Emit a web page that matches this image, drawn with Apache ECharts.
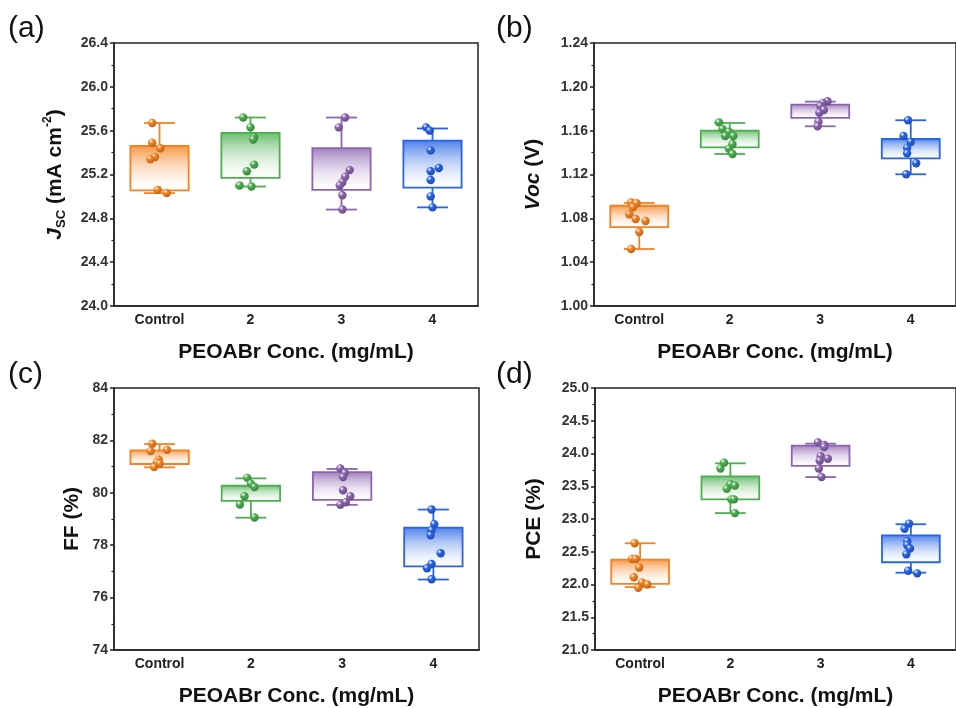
<!DOCTYPE html>
<html>
<head>
<meta charset="utf-8">
<script src="https://cdn.jsdelivr.net/npm/echarts@6/dist/echarts.min.js"></script>
<style>
  html, body { margin: 0; padding: 0; background: #fff; }
  #chart { width: 956px; height: 708px; }
</style>
</head>
<body>
<div id="chart"></div>
<script>
// categories / colours
var groups = ['Control', '2', '3', '4'];
var colors = [[245, 130, 32], [76, 175, 80], [140, 100, 175], [40, 100, 230]];

// box stats: [lower whisker, Q1, Q3, upper whisker]
var jscBox = [[25.03, 25.056, 25.46, 25.67], [25.09, 25.17, 25.58, 25.72], [24.88, 25.06, 25.44, 25.72], [24.90, 25.08, 25.51, 25.62]];
var vocBox = [[1.052, 1.072, 1.0915, 1.094], [1.1387, 1.1448, 1.160, 1.167], [1.164, 1.1716, 1.1837, 1.1865], [1.1202, 1.1348, 1.1524, 1.1695]];
var ffBox = [[80.97, 81.10, 81.62, 81.86], [79.05, 79.69, 80.27, 80.55], [79.54, 79.73, 80.79, 80.91], [76.69, 77.19, 78.67, 79.36]];
var pceBox = [[21.96, 22.01, 22.38, 22.63], [23.09, 23.30, 23.65, 23.85], [23.64, 23.81, 24.12, 24.15], [22.18, 22.34, 22.75, 22.92]];

// individual devices
var jscPts = [
  [25.67, 25.49, 25.44, 25.36, 25.34, 25.06, 25.03],
  [25.72, 25.63, 25.54, 25.52, 25.29, 25.23, 25.10, 25.09],
  [25.72, 25.63, 25.24, 25.18, 25.13, 25.10, 25.01, 24.88],
  [25.63, 25.60, 25.42, 25.23, 25.26, 25.15, 25.00, 24.90]
];
var vocPts = [
  [1.0946, 1.0937, 1.0901, 1.0837, 1.0794, 1.0776, 1.0675, 1.052],
  [1.1676, 1.1615, 1.159, 1.1551, 1.1551, 1.1476, 1.1435, 1.1387],
  [1.1868, 1.1853, 1.1825, 1.1789, 1.1764, 1.1682, 1.164],
  [1.1695, 1.1551, 1.1497, 1.1442, 1.1393, 1.1302, 1.1202]
];
var ffPts = [
  [81.87, 81.64, 81.59, 81.26, 81.16, 81.11, 80.98],
  [80.57, 80.35, 80.22, 79.87, 79.55, 79.06],
  [80.93, 80.76, 80.60, 80.10, 79.87, 79.64, 79.54],
  [79.36, 78.80, 78.57, 78.38, 77.69, 77.28, 77.12, 76.70]
];
var pcePts = [
  [22.63, 22.39, 22.39, 22.26, 22.11, 22.03, 22.00, 21.95],
  [23.86, 23.77, 23.53, 23.51, 23.46, 23.30, 23.30, 23.09],
  [24.17, 24.13, 24.10, 23.96, 23.92, 23.89, 23.77, 23.64],
  [22.93, 22.85, 22.66, 22.60, 22.55, 22.46, 22.21, 22.17]
];

// horizontal jitter of each point, as a fraction of the category width
var jscJit = [
  [-0.08, -0.08, 0.01, -0.05, -0.10, -0.02, 0.08],
  [-0.08, 0, 0.04, 0.03, 0.04, -0.04, -0.12, 0.01],
  [0.04, -0.03, 0.09, 0.04, 0.01, -0.02, 0.01, 0.01],
  [-0.07, -0.03, -0.02, -0.02, 0.07, -0.02, -0.02, 0]
];
var vocJit = [
  [-0.09, -0.03, -0.07, -0.11, -0.04, 0.07, 0, -0.09],
  [-0.12, -0.08, -0.01, -0.05, 0.04, 0.03, -0.01, 0.03],
  [0.08, 0.03, 0, 0.04, -0.01, -0.02, -0.03],
  [-0.03, -0.08, 0, -0.04, -0.04, 0.06, -0.05]
];
var ffJit = [
  [-0.08, 0.08, -0.10, -0.01, -0.03, 0, -0.06],
  [-0.04, 0, 0.04, -0.07, -0.12, 0.04],
  [-0.02, 0.03, 0.01, 0.01, 0.09, 0.04, -0.02],
  [-0.02, 0.01, -0.02, -0.03, 0.08, -0.02, -0.07, -0.02]
];
var pceJit = [
  [-0.06, -0.09, -0.05, -0.01, -0.07, 0.02, 0.08, -0.02],
  [-0.07, -0.11, 0, 0.05, -0.04, 0.01, 0.04, 0.05],
  [-0.03, 0.04, 0.04, 0, 0.08, -0.01, -0.02, 0.01],
  [-0.02, -0.07, -0.04, -0.04, -0.01, -0.05, -0.03, 0.07]
];

// y axis ranges: [min, max, interval]
var jscAxis = [24.0, 26.4, 0.4];
var vocAxis = [1.00, 1.24, 0.04];
var ffAxis = [74, 84, 2];
var pceAxis = [21.0, 25.0, 0.5];

var FONT = 'Liberation Sans, Arial, sans-serif';

function rgba(c, a) { return 'rgba(' + c[0] + ',' + c[1] + ',' + c[2] + ',' + a + ')'; }

function boxItem(params, api) {
  var i = api.value(0);
  var c = colors[i];
  var lo = api.coord([i, api.value(1)]);
  var q1 = api.coord([i, api.value(2)]);
  var q3 = api.coord([i, api.value(3)]);
  var hi = api.coord([i, api.value(4)]);
  var bw = api.size([1, 0])[0];
  var half = bw * 0.32, cap = bw * 0.17;
  var x = lo[0];
  var ls = { stroke: rgba(c, 1), lineWidth: 1.8 };
  return {
    type: 'group',
    children: [
      { type: 'line', shape: { x1: x, y1: hi[1], x2: x, y2: q3[1] }, style: ls },
      { type: 'line', shape: { x1: x, y1: q1[1], x2: x, y2: lo[1] }, style: ls },
      { type: 'line', shape: { x1: x - cap, y1: hi[1], x2: x + cap, y2: hi[1] }, style: ls },
      { type: 'line', shape: { x1: x - cap, y1: lo[1], x2: x + cap, y2: lo[1] }, style: ls },
      {
        type: 'rect',
        shape: { x: x - half, y: q3[1], width: half * 2, height: q1[1] - q3[1] },
        style: {
          fill: new echarts.graphic.LinearGradient(0, 0, 0, 1, [
            { offset: 0, color: rgba(c, 0.85) },
            { offset: 1, color: 'rgba(255,255,255,0.2)' }
          ]),
          stroke: rgba(c, 1),
          lineWidth: 1.8
        }
      }
    ]
  };
}

function dotItem(params, api) {
  var i = api.value(0);
  var c = colors[i];
  var p = api.coord([i, api.value(1)]);
  var bw = api.size([1, 0])[0];
  var r = 4.2;
  var dark = [Math.round(c[0] * 0.75), Math.round(c[1] * 0.75), Math.round(c[2] * 0.75)];
  return {
    type: 'circle',
    shape: { cx: p[0] + api.value(2) * bw, cy: p[1], r: r },
    style: {
      fill: new echarts.graphic.RadialGradient(0.35, 0.3, 0.75, [
        { offset: 0, color: 'rgba(255,255,255,0.95)' },
        { offset: 0.35, color: rgba(c, 1) },
        { offset: 1, color: rgba(dark, 1) }
      ])
    }
  };
}

var panels = [
  { box: jscBox, pts: jscPts, jit: jscJit, ax: jscAxis, dec: 1, grid: { left: 114, top: 43, width: 364, height: 263 },
    name: '{i|J}{sub|SC}{n| (mA cm}{sup|-2}{n|)}', gap: 46, label: '(a)', lx: 8, ly: 14 },
  { box: vocBox, pts: vocPts, jit: vocJit, ax: vocAxis, dec: 2, grid: { left: 594, top: 43, width: 371, height: 263 },
    name: '{i|Voc}{n| (V)}', gap: 48, label: '(b)', lx: 496, ly: 14 },
  { box: ffBox, pts: ffPts, jit: ffJit, ax: ffAxis, dec: 0, grid: { left: 114, top: 388, width: 365, height: 263 },
    name: '{n|FF (%)}', gap: 29, label: '(c)', lx: 8, ly: 360 },
  { box: pceBox, pts: pcePts, jit: pceJit, ax: pceAxis, dec: 1, grid: { left: 595, top: 388, width: 370, height: 263 },
    name: '{n|PCE (%)}', gap: 48, label: '(d)', lx: 496, ly: 360 }
];

var grids = [], xAxes = [], yAxes = [], series = [], graphics = [];
var nameRich = {
  n: { fontFamily: FONT, fontWeight: 'bold', fontSize: 21, color: '#111', lineHeight: 26 },
  i: { fontFamily: FONT, fontWeight: 'bold', fontStyle: 'italic', fontSize: 21, color: '#111', lineHeight: 26 },
  sub: { fontFamily: FONT, fontWeight: 'bold', fontSize: 13, color: '#111', verticalAlign: 'bottom', lineHeight: 14 },
  sup: { fontFamily: FONT, fontWeight: 'bold', fontSize: 12, color: '#111', verticalAlign: 'top', lineHeight: 13 }
};

panels.forEach(function (p, k) {
  grids.push(Object.assign({ show: true, borderColor: '#222', borderWidth: 1.5, backgroundColor: 'transparent' }, p.grid));
  xAxes.push({
    type: 'category', gridIndex: k, data: groups,
    axisLine: { lineStyle: { color: '#222', width: 1.5 } },
    axisTick: { alignWithLabel: true, length: 4, lineStyle: { color: '#222', width: 1.5 } },
    axisLabel: { fontFamily: FONT, fontWeight: 'bold', fontSize: 14, color: '#222', margin: 7 },
    splitLine: { show: false },
    name: 'PEOABr Conc. (mg/mL)', nameLocation: 'middle', nameGap: 36,
    nameTextStyle: { fontFamily: FONT, fontWeight: 'bold', fontSize: 21, color: '#111' }
  });
  yAxes.push({
    type: 'value', gridIndex: k, min: p.ax[0], max: p.ax[1], interval: p.ax[2],
    axisLine: { show: true, lineStyle: { color: '#222', width: 1.5 } },
    axisTick: { show: true, length: 4, lineStyle: { color: '#222', width: 1.5 } },
    minorTick: { show: true, splitNumber: 2, length: 2.5, lineStyle: { color: '#222', width: 1.2 } },
    splitLine: { show: false },
    axisLabel: {
      fontFamily: FONT, fontWeight: 'bold', fontSize: 14, color: '#333', margin: 6,
      formatter: (function (d) { return function (v) { return v.toFixed(d); }; })(p.dec)
    },
    name: p.name, nameLocation: 'middle', nameGap: p.gap, nameRotate: 90,
    nameTextStyle: { rich: nameRich }
  });
  var boxData = p.box.map(function (b, i) { return [i, b[0], b[1], b[2], b[3]]; });
  var dotData = [];
  p.pts.forEach(function (arr, i) {
    arr.forEach(function (v, j) { dotData.push([i, v, p.jit[i][j]]); });
  });
  series.push({
    type: 'custom', xAxisIndex: k, yAxisIndex: k, renderItem: boxItem, data: boxData, z: 2,
    encode: { x: 0, y: [1, 2, 3, 4] }, silent: true
  });
  series.push({
    type: 'custom', xAxisIndex: k, yAxisIndex: k, renderItem: dotItem, data: dotData, z: 3,
    encode: { x: 0, y: 1 }, silent: true
  });
  graphics.push({
    type: 'text', left: p.lx, top: p.ly,
    style: { text: p.label, font: '30px ' + FONT, fill: '#111' }
  });
});

var chart = echarts.init(document.getElementById('chart'), null, { renderer: 'canvas' });
chart.setOption({
  backgroundColor: '#fff',
  animation: false,
  grid: grids,
  xAxis: xAxes,
  yAxis: yAxes,
  series: series,
  graphic: graphics
});
window.addEventListener('resize', function () { chart.resize(); });
</script>
</body>
</html>
